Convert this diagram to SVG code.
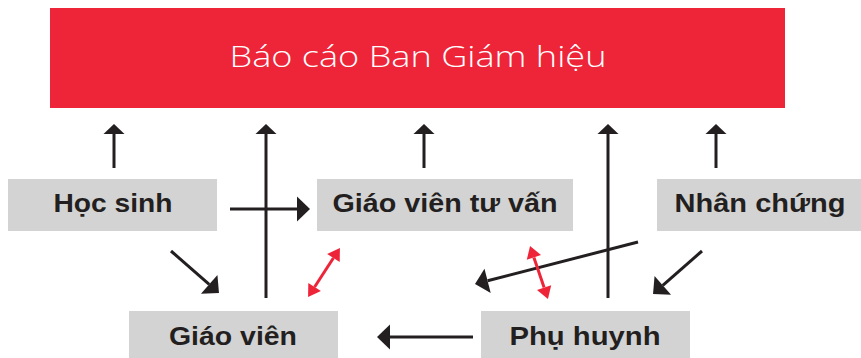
<svg xmlns="http://www.w3.org/2000/svg" width="861" height="358" viewBox="0 0 861 358">
  <style>
    .box { fill: #D3D3D3; }
    .lbl { font-family: "Liberation Sans", "Open Sans", sans-serif; font-weight: bold; font-size: 25px; fill: #231F20; text-anchor: middle; }
    .title { font-family: "Open Sans", "Liberation Sans", sans-serif; font-weight: 300; font-size: 29px; fill: #FFFFFF; text-anchor: middle; }
    .ln { stroke: #231F20; stroke-width: 3; fill: none; }
    .vs { marker-end: url(#hs); }
    .vl { marker-end: url(#hl); }
    .rd { stroke: #EE2538; stroke-width: 3; fill: none; marker-start: url(#hr); marker-end: url(#hr); }
  </style>
  <defs>
    <marker id="hs" markerUnits="userSpaceOnUse" markerWidth="12" markerHeight="22" viewBox="0 -11 12 22" refX="0" refY="0" orient="auto" overflow="visible">
      <path d="M0,-10.5 L10,0 L0,10.5 Z" fill="#231F20"/>
    </marker>
    <marker id="hl" markerUnits="userSpaceOnUse" markerWidth="14" markerHeight="26" viewBox="0 -13 14 26" refX="0" refY="0" orient="auto" overflow="visible">
      <path d="M0,-12.5 L13,0 L0,12.5 Z" fill="#231F20"/>
    </marker>
    <marker id="hr" markerUnits="userSpaceOnUse" markerWidth="13" markerHeight="16" viewBox="0 -8 13 16" refX="0" refY="0" orient="auto-start-reverse" overflow="visible">
      <path d="M0,-7.5 L12,0 L0,7.5 Z" fill="#EE2538"/>
    </marker>
  </defs>

  <g id="ban-giam-hieu">
    <rect x="50" y="8" width="735" height="100" fill="#EE2439"/>
    <text class="title" x="418" y="67" textLength="377" lengthAdjust="spacingAndGlyphs">Báo cáo Ban Giám hiệu</text>
  </g>

  <g id="hoc-sinh">
    <rect class="box" x="8" y="179" width="209" height="52"/>
    <text class="lbl" x="113" y="212" textLength="119" lengthAdjust="spacingAndGlyphs">Học sinh</text>
  </g>

  <g id="giao-vien-tu-van">
    <rect class="box" x="317" y="179" width="256" height="52"/>
    <text class="lbl" x="445" y="212" textLength="225" lengthAdjust="spacingAndGlyphs">Giáo viên tư vấn</text>
  </g>

  <g id="nhan-chung">
    <rect class="box" x="657" y="179" width="204" height="52"/>
    <text class="lbl" x="760" y="212" textLength="171" lengthAdjust="spacingAndGlyphs">Nhân chứng</text>
  </g>

  <g id="giao-vien">
    <rect class="box" x="129" y="311" width="209" height="47"/>
    <text class="lbl" x="233" y="345" textLength="128" lengthAdjust="spacingAndGlyphs">Giáo viên</text>
  </g>

  <g id="phu-huynh">
    <rect class="box" x="481" y="311" width="209" height="47"/>
    <text class="lbl" x="585" y="345" textLength="151" lengthAdjust="spacingAndGlyphs">Phụ huynh</text>
  </g>

  <g id="connectors">
    <line class="ln vs" x1="114" y1="168" x2="114" y2="134"/>
    <line class="ln vs" x1="266" y1="298" x2="266" y2="134"/>
    <line class="ln vs" x1="424" y1="168" x2="424" y2="134"/>
    <line class="ln vs" x1="608" y1="298" x2="608" y2="134"/>
    <line class="ln vs" x1="716" y1="168" x2="716" y2="134"/>
    <line class="ln vl" x1="230" y1="209" x2="297" y2="209"/>
    <line class="ln vl" x1="473" y1="337" x2="390" y2="337"/>
    <line class="ln vl" x1="171" y1="251" x2="209.2" y2="284.4"/>
    <line class="ln vl" x1="638" y1="242" x2="487.6" y2="280.8"/>
    <line class="ln vl" x1="702" y1="251" x2="662.8" y2="285.4"/>
    <line class="rd" x1="314.6" y1="287" x2="333.4" y2="258"/>
    <line class="rd" x1="533.9" y1="257.4" x2="544.1" y2="287.6"/>
  </g>
</svg>
